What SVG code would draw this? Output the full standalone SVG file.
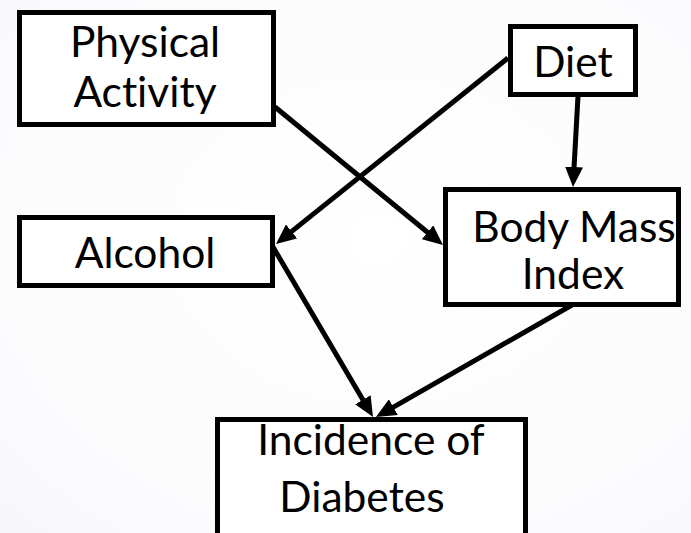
<svg xmlns="http://www.w3.org/2000/svg" width="691" height="533" viewBox="0 0 691 533">
  <defs>
    <radialGradient id="bg" cx="0.55" cy="0.45" r="0.8">
      <stop offset="0" stop-color="#ffffff"/>
      <stop offset="0.75" stop-color="#fbfbfd"/>
      <stop offset="1" stop-color="#f5f6f8"/>
    </radialGradient>
    <marker id="head" markerUnits="userSpaceOnUse" markerWidth="20" markerHeight="18" refX="5" refY="9" orient="auto">
      <path d="M0,0 L20,9 L0,18 z" fill="#000"/>
    </marker>
    <style>
      .box { fill: #ffffff; stroke: #000; stroke-width: 5; }
      .lbl { font-family: Lato, "Open Sans", "Liberation Sans", sans-serif; font-size: 42.5px; fill: #000; text-anchor: middle; font-variant-ligatures: none; }
      .edge { stroke: #000; stroke-width: 5; fill: none; marker-end: url(#head); }
    </style>
  </defs>

  <rect width="691" height="533" fill="url(#bg)"/>

  <!-- connectors: each line stops 15px short of its tip; the marker covers the rest -->
  <g id="connectors">
    <line class="edge" x1="275" y1="107" x2="431.4" y2="235.5"/>
    <line class="edge" x1="508" y1="58" x2="287.7" y2="234.6"/>
    <line class="edge" x1="578" y1="96" x2="573.8" y2="172"/>
    <line class="edge" x1="273" y1="247" x2="365.4" y2="404.1"/>
    <line class="edge" x1="572" y1="305" x2="389" y2="409.6"/>
  </g>

  <g id="physical-activity">
    <rect class="box" x="19.5" y="12.5" width="254" height="112"/>
    <text class="lbl" x="145" y="57">Physical</text>
    <text class="lbl" x="145" y="107">Activity</text>
  </g>

  <g id="diet">
    <rect class="box" x="510.5" y="26.5" width="125" height="68"/>
    <text class="lbl" x="573" y="77">Diet</text>
  </g>

  <g id="alcohol">
    <rect class="box" x="19.5" y="217.5" width="253" height="68"/>
    <text class="lbl" x="145" y="268">Alcohol</text>
  </g>

  <g id="body-mass-index">
    <rect class="box" x="445.5" y="189.5" width="233" height="115"/>
    <text class="lbl" x="574" y="242">Body Mass</text>
    <text class="lbl" x="573" y="289">Index</text>
  </g>

  <g id="incidence-of-diabetes">
    <rect class="box" x="217.5" y="419.5" width="308" height="130"/>
    <text class="lbl" x="371" y="455">Incidence of</text>
    <text class="lbl" x="362" y="512">Diabetes</text>
  </g>
</svg>
